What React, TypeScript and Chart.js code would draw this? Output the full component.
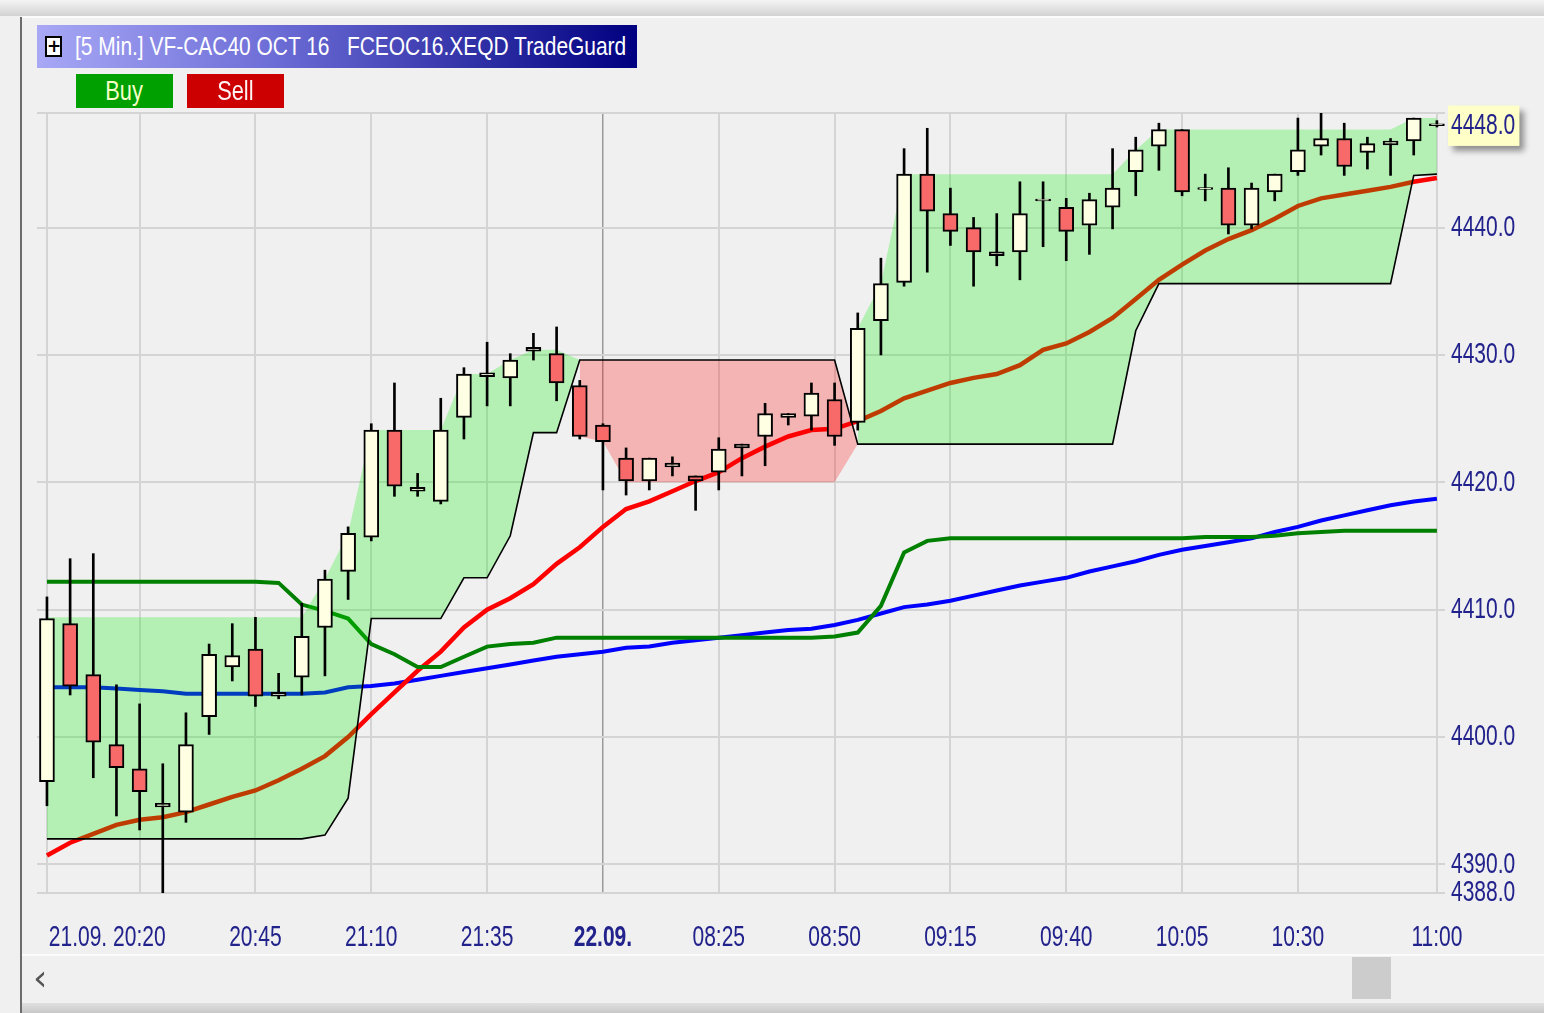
import React, { useEffect, useRef } from 'react';
import { Chart, registerables } from 'chart.js';

Chart.register(...registerables);

const FONT = "'Liberation Sans', Arial, sans-serif";
const TEXT = '#22228c';
const GREEN_FILL = 'rgba(0,240,0,0.25)';
const RED_FILL = 'rgba(255,0,0,0.25)';
const TEXT_SCALE_X = 0.7; // narrow (condensed) look of the platform's font

// 5-minute candles, index 0 = 21.09. 20:00 ... index 60 = 22.09. 11:00
const opens = [
  4396.5, 4408.9, 4404.9, 4399.4, 4397.5, 4394.5, 4394.1, 4401.6, 4405.5, 4406.9,
  4403.2, 4404.7, 4408.6, 4413.0, 4415.7, 4424.1, 4419.3, 4418.5, 4425.1, 4428.3,
  4428.2, 4430.3, 4430.1, 4427.6, 4424.5, 4421.9, 4420.1, 4421.2, 4420.5, 4420.8,
  4422.7, 4423.6, 4425.1, 4425.2, 4426.5, 4424.7, 4432.7, 4435.7, 4444.2, 4441.1,
  4440.0, 4437.8, 4438.1, 4442.1, 4441.6, 4440.2, 4441.6, 4444.4, 4446.4, 4447.7,
  4443.0, 4443.1, 4440.2, 4442.8, 4444.4, 4446.4, 4447.0, 4445.9, 4446.5, 4446.8,
  4448.0,
];
const highs = [
  4411.0, 4414.0, 4414.4, 4404.1, 4402.6, 4397.9, 4401.9, 4407.3, 4408.9, 4409.4,
  4405.0, 4410.5, 4413.1, 4416.5, 4424.6, 4427.8, 4420.7, 4426.6, 4429.0, 4431.0,
  4430.1, 4431.7, 4432.2, 4428.0, 4424.6, 4422.7, 4421.9, 4422.0, 4420.5, 4423.5,
  4423.0, 4426.2, 4425.4, 4427.8, 4427.8, 4433.3, 4437.6, 4446.2, 4447.8, 4443.1,
  4440.8, 4441.1, 4443.6, 4443.6, 4442.3, 4442.7, 4446.2, 4447.1, 4448.2, 4447.7,
  4444.2, 4444.7, 4443.5, 4444.2, 4448.6, 4449.0, 4448.2, 4447.1, 4447.0, 4448.6,
  4448.4,
];
const lows = [
  4394.6, 4403.3, 4396.8, 4393.8, 4392.7, 4387.6, 4393.3, 4400.2, 4404.4, 4402.4,
  4403.0, 4403.3, 4404.8, 4410.8, 4415.4, 4418.9, 4418.9, 4418.3, 4423.4, 4426.0,
  4426.0, 4429.6, 4426.4, 4423.4, 4419.4, 4419.0, 4419.4, 4420.5, 4417.8, 4419.4,
  4420.5, 4421.3, 4424.5, 4424.1, 4422.9, 4424.1, 4430.0, 4435.4, 4436.5, 4438.6,
  4435.4, 4437.0, 4435.9, 4438.5, 4437.4, 4437.9, 4439.9, 4442.5, 4444.5, 4442.5,
  4442.1, 4439.5, 4439.9, 4442.1, 4444.1, 4445.7, 4444.1, 4444.6, 4444.1, 4445.7,
  4447.9,
];
const closes = [
  4409.3, 4404.0, 4399.6, 4397.6, 4395.7, 4394.8, 4399.4, 4406.5, 4406.4, 4403.2,
  4403.5, 4407.9, 4412.4, 4416.0, 4424.1, 4419.7, 4419.6, 4424.1, 4428.5, 4428.6,
  4429.6, 4430.6, 4427.8, 4423.6, 4423.2, 4420.1, 4421.9, 4421.5, 4420.1, 4422.6,
  4423.0, 4425.4, 4425.4, 4427.0, 4423.6, 4432.1, 4435.6, 4444.2, 4441.3, 4439.7,
  4438.1, 4438.1, 4441.1, 4442.25, 4439.7, 4442.2, 4443.1, 4446.1, 4447.7, 4442.8,
  4443.15, 4440.2, 4443.1, 4444.2, 4446.1, 4447.0, 4444.8, 4446.6, 4446.8, 4448.6,
  4448.15,
];

// moving average (red), blue average, dark green level
const maRed = [
  4390.7, 4391.7, 4392.4, 4393.1, 4393.5, 4393.7, 4394.1, 4394.7, 4395.3, 4395.8,
  4396.6, 4397.5, 4398.5, 4400.0, 4401.8, 4403.5, 4405.2, 4406.7, 4408.6, 4410.0,
  4410.9, 4412.0, 4413.6, 4414.9, 4416.5, 4417.9, 4418.5, 4419.3, 4420.1, 4420.8,
  4421.9, 4422.8, 4423.6, 4424.1, 4424.2, 4424.8, 4425.6, 4426.6, 4427.2, 4427.8,
  4428.2, 4428.5, 4429.2, 4430.4, 4430.9, 4431.8, 4432.9, 4434.4, 4435.9, 4437.1,
  4438.2, 4439.1, 4439.8, 4440.7, 4441.7, 4442.3, 4442.6, 4442.9, 4443.2, 4443.6,
  4443.9,
];
const maBlue = [
  4403.9, 4403.9, 4403.9, 4403.8, 4403.7, 4403.6, 4403.4, 4403.4, 4403.4, 4403.4,
  4403.4, 4403.4, 4403.5, 4403.9, 4404.0, 4404.2, 4404.5, 4404.8, 4405.1, 4405.4,
  4405.7, 4406.0, 4406.3, 4406.5, 4406.7, 4407.0, 4407.1, 4407.4, 4407.6, 4407.8,
  4408.0, 4408.2, 4408.4, 4408.5, 4408.8, 4409.2, 4409.7, 4410.2, 4410.4, 4410.7,
  4411.1, 4411.5, 4411.9, 4412.2, 4412.5, 4413.0, 4413.4, 4413.8, 4414.3, 4414.7,
  4415.0, 4415.3, 4415.6, 4416.1, 4416.5, 4417.0, 4417.4, 4417.8, 4418.2, 4418.5,
  4418.7,
];
const levelGreen = [
  4412.2, 4412.2, 4412.2, 4412.2, 4412.2, 4412.2, 4412.2, 4412.2, 4412.2, 4412.2,
  4412.1, 4410.4, 4409.9, 4409.3, 4407.3, 4406.5, 4405.5, 4405.5, 4406.3, 4407.1,
  4407.3, 4407.4, 4407.8, 4407.8, 4407.8, 4407.8, 4407.8, 4407.8, 4407.8, 4407.8,
  4407.8, 4407.8, 4407.8, 4407.8, 4407.9, 4408.2, 4410.3, 4414.5, 4415.4, 4415.6,
  4415.6, 4415.6, 4415.6, 4415.6, 4415.6, 4415.6, 4415.6, 4415.6, 4415.6, 4415.6,
  4415.7, 4415.7, 4415.7, 4415.8, 4416.0, 4416.1, 4416.2, 4416.2, 4416.2, 4416.2,
  4416.2,
];

// TradeGuard trailing stop and channel
const stopLine = [
  4392.0, 4392.0, 4392.0, 4392.0, 4392.0, 4392.0, 4392.0, 4392.0, 4392.0, 4392.0,
  4392.0, 4392.0, 4392.3, 4395.2, 4409.3, 4409.3, 4409.3, 4409.3, 4412.5, 4412.5,
  4415.8, 4423.9, 4423.9, 4429.6, 4429.6, 4429.6, 4429.6, 4429.6, 4429.6, 4429.6,
  4429.6, 4429.6, 4429.6, 4429.6, 4429.6, 4423.0, 4423.0, 4423.0, 4423.0, 4423.0,
  4423.0, 4423.0, 4423.0, 4423.0, 4423.0, 4423.0, 4423.0, 4431.9, 4435.6, 4435.6,
  4435.6, 4435.6, 4435.6, 4435.6, 4435.6, 4435.6, 4435.6, 4435.6, 4435.6, 4444.1,
  4444.2,
];
const channelLong = [
  4409.4, 4409.4, 4409.4, 4409.4, 4409.4, 4409.4, 4409.4, 4409.4, 4409.4, 4409.4,
  4409.4, 4409.4, 4412.4, 4416.0, 4424.1, 4424.1, 4424.1, 4424.1, 4428.5, 4428.5,
  4429.6, 4430.4, 4430.4, 4429.6, null, null, null, null, null, null,
  null, null, null, null, null, 4432.1, 4435.6, 4444.2, 4444.2, 4444.2,
  4444.2, 4444.2, 4444.2, 4444.2, 4444.2, 4444.2, 4444.2, 4446.1, 4447.7, 4447.7,
  4447.7, 4447.7, 4447.7, 4447.7, 4447.7, 4447.7, 4447.7, 4447.7, 4447.7, 4448.6,
  4448.6,
];
const channelShort = [
  null, null, null, null, null, null, null, null, null, null,
  null, null, null, null, null, null, null, null, null, null,
  null, null, null, 4423.6, 4423.2, 4420.0, 4420.0, 4420.0, 4420.0, 4420.0,
  4420.0, 4420.0, 4420.0, 4420.0, 4420.0, 4423.0, null, null, null, null,
  null, null, null, null, null, null, null, null, null, null,
  null, null, null, null, null, null, null, null, null, null,
  null,
];

// axis ticks
const xTickIndex = [0, 2.6, 4, 9, 14, 19, 24, 29, 34, 39, 44, 49, 54, 60];
const xTickLabels = ['', '21.09. 20:20', '', '20:45', '21:10', '21:35', '22.09.', '08:25', '08:50', '09:15', '09:40', '10:05', '10:30', '11:00'];
const dayBreakIndex = 24;
const yGridValues = [4390, 4400, 4410, 4420, 4430, 4440];
const yMin = 4387.75;
const yMax = 4449.0;
const lastPrice = 4448.0;

const TITLE = '[5 Min.] VF-CAC40 OCT 16   FCEOC16.XEQD TradeGuard';

function condenseContext(ctx: any) {
  if (ctx.__condensed) return;
  ctx.__condensed = true;
  const fill = ctx.fillText.bind(ctx);
  const measure = ctx.measureText.bind(ctx);
  ctx.fillText = (t: string, x: number, y: number) => {
    ctx.save();
    ctx.translate(x, y);
    ctx.scale(TEXT_SCALE_X, 1);
    fill(t, 0, 0);
    ctx.restore();
  };
  ctx.measureText = (t: string) => {
    const m = measure(t);
    return {
      width: m.width * TEXT_SCALE_X,
      actualBoundingBoxAscent: m.actualBoundingBoxAscent,
      actualBoundingBoxDescent: m.actualBoundingBoxDescent,
    };
  };
}

export default function App() {
  const ref = useRef<HTMLCanvasElement>(null);
  const titleRef = useRef<HTMLDivElement>(null);

  useEffect(() => {
    const canvas = ref.current as HTMLCanvasElement;
    condenseContext(canvas.getContext('2d'));

    // fit the title text to the caption width (narrow platform font)
    const mctx = document.createElement('canvas').getContext('2d') as CanvasRenderingContext2D;
    mctx.font = `26px ${FONT}`;
    const tw = mctx.measureText(TITLE).width;
    if (titleRef.current) titleRef.current.style.transform = `scaleX(${552 / tw})`;

    const n = closes.length;
    const idx = Array.from({ length: n }, (_, i) => i);
    const up = idx.map((i) => closes[i] >= opens[i]);
    const pts = (arr: (number | null)[]) => idx.map((i) => ({ x: i, y: arr[i] }));

    const shadowPlugin = {
      id: 'lastPriceShadow',
      beforeDraw(chart: any) {
        const ys = chart.scales.y;
        if (!ys) return;
        const ctx = chart.ctx;
        const py = ys.getPixelForValue(lastPrice);
        ctx.save();
        ctx.font = `30px ${FONT}`;
        const w = ctx.measureText(lastPrice.toFixed(1)).width;
        ctx.shadowColor = 'rgba(0,0,0,0.4)';
        ctx.shadowBlur = 6;
        ctx.shadowOffsetX = 5;
        ctx.shadowOffsetY = 5;
        ctx.fillStyle = '#ffffc8';
        ctx.fillRect(ys.left + 6 - 3, py - 20, w + 7, 40);
        ctx.restore();
      },
    };

    const chart = new Chart(canvas, {
      type: 'bar',
      data: {
        datasets: [
          {
            type: 'bar',
            label: 'body',
            data: idx.map((i) => ({ x: i, y: [opens[i], closes[i]] })) as any,
            backgroundColor: idx.map((i) => (up[i] ? '#ffffe4' : '#f86a6a')),
            borderColor: '#000000',
            borderWidth: 2,
            borderSkipped: false,
            barThickness: 15,
            grouped: false,
            order: 0,
          } as any,
          {
            type: 'bar',
            label: 'wick',
            data: idx.map((i) => ({ x: i, y: [lows[i], highs[i]] })) as any,
            backgroundColor: '#000000',
            borderWidth: 0,
            barThickness: 2,
            grouped: false,
            order: 1,
          } as any,
          {
            type: 'line',
            label: 'stop',
            data: pts(stopLine) as any,
            borderColor: '#000000',
            borderWidth: 1.6,
            pointRadius: 0,
            fill: false,
            order: 2,
          } as any,
          {
            type: 'line',
            label: 'long channel',
            data: pts(channelLong) as any,
            borderWidth: 0,
            borderColor: 'rgba(0,0,0,0)',
            pointRadius: 0,
            spanGaps: false,
            fill: { target: 2, above: GREEN_FILL, below: GREEN_FILL },
            order: 3,
          } as any,
          {
            type: 'line',
            label: 'short channel',
            data: pts(channelShort) as any,
            borderWidth: 0,
            borderColor: 'rgba(0,0,0,0)',
            pointRadius: 0,
            spanGaps: false,
            fill: { target: 2, above: RED_FILL, below: RED_FILL },
            order: 4,
          } as any,
          {
            type: 'line',
            label: 'level',
            data: pts(levelGreen) as any,
            borderColor: '#008000',
            borderWidth: 4,
            pointRadius: 0,
            fill: false,
            order: 5,
          } as any,
          {
            type: 'line',
            label: 'ma',
            data: pts(maRed) as any,
            borderColor: '#ff0000',
            borderWidth: 4.5,
            pointRadius: 0,
            fill: false,
            order: 6,
          } as any,
          {
            type: 'line',
            label: 'blue',
            data: pts(maBlue) as any,
            borderColor: '#0000ff',
            borderWidth: 4,
            pointRadius: 0,
            fill: false,
            order: 7,
          } as any,
        ],
      },
      options: {
        animation: false,
        responsive: false,
        events: [],
        layout: { padding: { left: 37, top: 113, right: 0, bottom: 0 } },
        plugins: {
          legend: { display: false },
          tooltip: { enabled: false },
        },
        scales: {
          x: {
            type: 'linear',
            position: 'bottom',
            min: -0.43,
            max: 60.35,
            offset: false,
            afterFit: (s: any) => {
              s.height = 120;
            },
            afterBuildTicks: (s: any) => {
              s.ticks = xTickIndex.map((v) => ({ value: v }));
            },
            border: { display: false },
            grid: {
              offset: false,
              drawTicks: false,
              lineWidth: (c: any) => (c.tick && c.tick.value === dayBreakIndex ? 1.5 : 2),
              color: (c: any) => {
                const v = c.tick ? c.tick.value : null;
                if (v === 2.6) return 'rgba(0,0,0,0)';
                if (v === dayBreakIndex) return '#9a9a9a';
                return '#d4d4d4';
              },
            },
            ticks: {
              autoSkip: false,
              maxRotation: 0,
              minRotation: 0,
              padding: 27,
              color: TEXT,
              font: (c: any) => ({
                family: FONT,
                size: 30,
                weight: c.tick && c.tick.value === dayBreakIndex ? 'bold' : 'normal',
              }),
              callback: (v: any) => {
                const k = xTickIndex.indexOf(v);
                return k >= 0 ? xTickLabels[k] : '';
              },
            },
          } as any,
          y: {
            type: 'linear',
            position: 'right',
            min: yMin,
            max: yMax,
            afterFit: (s: any) => {
              s.width = 99;
            },
            afterBuildTicks: (s: any) => {
              s.ticks = [yMin, ...yGridValues, lastPrice, yMax].map((v) => ({ value: v }));
            },
            border: { display: false },
            grid: {
              drawTicks: false,
              lineWidth: 2,
              color: (c: any) => (c.tick && c.tick.value === lastPrice ? 'rgba(0,0,0,0)' : '#d4d4d4'),
            },
            ticks: {
              autoSkip: false,
              padding: 6,
              color: TEXT,
              font: { family: FONT, size: 30 },
              showLabelBackdrop: (c: any) => !!(c.tick && c.tick.value === lastPrice),
              backdropColor: '#ffffc8',
              backdropPadding: { top: 2, bottom: 2, left: 3, right: 4 },
              callback: (v: any) => (v === yMax ? '' : (Math.round(v * 2) / 2).toFixed(1)),
            },
          } as any,
        },
      } as any,
      plugins: [shadowPlugin],
    });

    return () => {
      chart.destroy();
    };
  }, []);

  const abs = (s: any) => ({ position: 'absolute', ...s });

  return (
    <div
      style={{
        position: 'fixed',
        left: 0,
        top: 0,
        width: 1544,
        height: 1013,
        background: '#f0f0f0',
        overflow: 'hidden',
        fontFamily: FONT,
      }}
    >
      <div style={abs({ left: 0, top: 0, width: 1544, height: 16, background: 'linear-gradient(#f4f4f4, #d2d2d2)' })} />
      <div style={abs({ left: 22, top: 16, width: 1522, height: 2, background: '#fbfbfb' })} />
      <div style={abs({ left: 20, top: 17, width: 2, height: 996, background: '#6c6c6c' })} />
      <canvas ref={ref} width={1544} height={1013} style={{ position: 'absolute', left: 0, top: 0 }} />
      <div
        style={abs({
          left: 37,
          top: 25,
          width: 600,
          height: 43,
          background: 'linear-gradient(to right, #a8a8f6 0%, #6c6cd6 40%, #000080 100%)',
        })}
      >
        <div
          style={abs({
            left: 8,
            top: 11,
            width: 13,
            height: 17,
            background: '#ffffff',
            border: '2px solid #000000',
            color: '#000000',
            fontFamily: 'DejaVu Sans, sans-serif',
            fontWeight: 'bold',
            fontSize: 17,
            lineHeight: '17px',
            textAlign: 'center',
          })}
        >
          +
        </div>
        <div
          ref={titleRef}
          style={abs({
            left: 38,
            top: 0,
            height: 43,
            lineHeight: '43px',
            fontSize: 26,
            color: '#ffffff',
            whiteSpace: 'pre',
            transformOrigin: '0 50%',
            transform: 'scaleX(0.8)',
          })}
        >
          {TITLE}
        </div>
      </div>
      <div
        style={abs({
          left: 76,
          top: 74,
          width: 97,
          height: 34,
          background: '#00a000',
          color: '#f6ffc8',
          fontSize: 28,
          lineHeight: '34px',
          textAlign: 'center',
        })}
      >
        <span style={{ display: 'inline-block', transform: 'scaleX(0.78)' }}>Buy</span>
      </div>
      <div
        style={abs({
          left: 187,
          top: 74,
          width: 97,
          height: 34,
          background: '#cc0000',
          color: '#fff4f4',
          fontSize: 28,
          lineHeight: '34px',
          textAlign: 'center',
        })}
      >
        <span style={{ display: 'inline-block', transform: 'scaleX(0.78)' }}>Sell</span>
      </div>
      <div style={abs({ left: 22, top: 954, width: 1522, height: 2, background: '#fbfbfb' })} />
      <div style={abs({ left: 33, top: 958, fontSize: 36, lineHeight: '40px', color: '#555555', fontFamily: 'DejaVu Sans, sans-serif' })}>
        ‹
      </div>
      <div style={abs({ left: 1352, top: 957, width: 39, height: 42, background: '#cccccc' })} />
      <div style={abs({ left: 22, top: 1003, width: 1522, height: 10, background: 'linear-gradient(#e0e0e0, #c8c8c8)' })} />
    </div>
  );
}
